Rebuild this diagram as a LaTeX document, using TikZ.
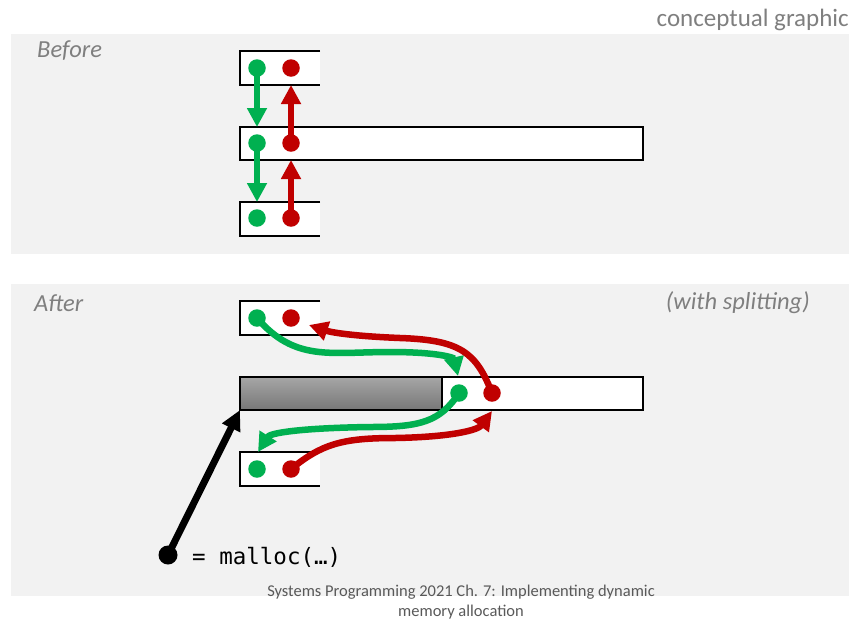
\documentclass[tikz,border=0pt]{standalone}
\usepackage{fontspec}
\setmainfont{Carlito}
\newfontfamily\codefont{DejaVu Sans Mono}
\usetikzlibrary{arrows.meta}
\definecolor{panelbg}{HTML}{F2F2F2}
\definecolor{lblgray}{HTML}{7F7F7F}
\definecolor{footgray}{HTML}{595959}
\definecolor{ptrgreen}{HTML}{00B050}
\definecolor{ptrred}{HTML}{C00000}
\definecolor{usedtop}{HTML}{A6A6A6}
\definecolor{usedbot}{HTML}{777777}
\tikzset{
  panel/.style={fill=panelbg, draw=none},
  blockfill/.style={fill=white, draw=none, inner sep=0pt, outer sep=0pt},
  border/.style={draw=black, line width=2.8pt},
  dot/.style={circle, inner sep=0pt, minimum size=17.5pt},
  gdot/.style={dot, fill=ptrgreen},
  rdot/.style={dot, fill=ptrred},
  link/.style={line width=6.5pt, -{Triangle[length=19pt,width=19pt]}},
  glink/.style={link, draw=ptrgreen},
  rlink/.style={link, draw=ptrred},
  lbl/.style={text=lblgray, font=\fontsize{24.5}{28}\selectfont\itshape, inner sep=0pt},
}
\begin{document}
\begin{tikzpicture}[x=1pt, y=-1pt]
\useasboundingbox (0,0) rectangle (853,622);

% panels
\fill[panel] (11,34) rectangle (849,254);
\fill[panel] (11,284) rectangle (849,596);

% labels
\node[text=lblgray, font=\fontsize{25}{28}\selectfont, anchor=east, inner sep=0pt] (cg) at (849,20) {conceptual graphic};
\node[lbl, anchor=west] (before) at (37,51) {Before};
\node[lbl, anchor=west] (after) at (34,303) {After};
\node[lbl, anchor=east] (split) at (810,303) {(with splitting)};

% ---------- Before: free list ----------
\node[blockfill, minimum width=80pt, minimum height=34pt, anchor=north west] (bA) at (240,51) {};
\node[blockfill, minimum width=403pt, minimum height=33pt, anchor=north west] (bB) at (240,127) {};
\node[blockfill, minimum width=80pt, minimum height=34pt, anchor=north west] (bC) at (240,202) {};
\draw[border] (bA.north east) -- (bA.north west) -- (bA.south west) -- (bA.south east);
\draw[border] (bB.north west) rectangle (bB.south east);
\draw[border] (bC.north east) -- (bC.north west) -- (bC.south west) -- (bC.south east);

\node[gdot] (gA) at (257,68) {};
\node[rdot] (rA) at (291,68) {};
\node[gdot] (gB) at (257,143) {};
\node[rdot] (rB) at (291,143) {};
\node[gdot] (gC) at (257,218) {};
\node[rdot] (rC) at (291,218) {};

\draw[glink] (gA.center) -- (gA |- bB.north);
\draw[glink] (gB.center) -- (gB |- bC.north);
\draw[rlink] (rB.center) -- (rB |- bA.south);
\draw[rlink] (rC.center) -- (rC |- bB.south);

% ---------- After: split block ----------
\node[blockfill, minimum width=80pt, minimum height=34pt, anchor=north west] (aA) at (240,301) {};
\node[blockfill, minimum width=403pt, minimum height=33pt, anchor=north west] (aB) at (240,377) {};
\node[inner sep=0pt, outer sep=0pt, minimum width=202pt, minimum height=33pt, anchor=north west,
      top color=usedtop, bottom color=usedbot] (used) at (240,377) {};
\node[blockfill, minimum width=80pt, minimum height=34pt, anchor=north west] (aC) at (240,452) {};
\draw[border] (aA.north east) -- (aA.north west) -- (aA.south west) -- (aA.south east);
\draw[border] (aB.north west) rectangle (aB.south east);
\draw[border] (used.north east) -- (used.south east);
\draw[border] (aC.north east) -- (aC.north west) -- (aC.south west) -- (aC.south east);

\node[gdot] (gP) at (257,318) {};
\node[rdot] (rP) at (291,318) {};
\node[gdot] (gM) at (459,393) {};
\node[rdot] (rM) at (492,393) {};
\node[gdot] (gN) at (257,469) {};
\node[rdot] (rN) at (291,469) {};

\coordinate (gMin) at (458,376);
\coordinate (rPin) at (309,325);
\coordinate (gNin) at (258,452);
\coordinate (rMin) at (492,411);

\draw[glink] (gP.center) .. controls (295,362) and (330,352) .. (390,352)
              .. controls (440,352) and (454,358) .. (gMin);
\draw[rlink] (rM.center) .. controls (476,352) and (460,340) .. (400,338)
              .. controls (350,336) and (330,332) .. (rPin);
\draw[glink] (gM.center) .. controls (440,422) and (420,427) .. (370,427)
              .. controls (300,428) and (270,433) .. (gNin);
\draw[rlink] (rN.center) .. controls (322,444) and (342,438) .. (395,438)
              .. controls (452,437) and (478,430) .. (rMin);

% malloc result pointer
\node[circle, fill=black, inner sep=0pt, minimum size=19pt] (res) at (168,555) {};
\draw[line width=7pt, -{Triangle[length=20pt,width=19pt]}] (res.center) -- (aB.south west);
\node[anchor=west, inner sep=0pt, font=\codefont\fontsize{22.5}{26}\selectfont] (call) at (192,557) {= malloc(…)};

% footer
\node[text=footgray, font=\fontsize{16.5}{20}\selectfont, align=center, inner sep=0pt] (foot) at (461,602.5)
  {Systems Programming 2021 Ch. 7: Implementing dynamic\\memory allocation};
\end{tikzpicture}
\end{document}
